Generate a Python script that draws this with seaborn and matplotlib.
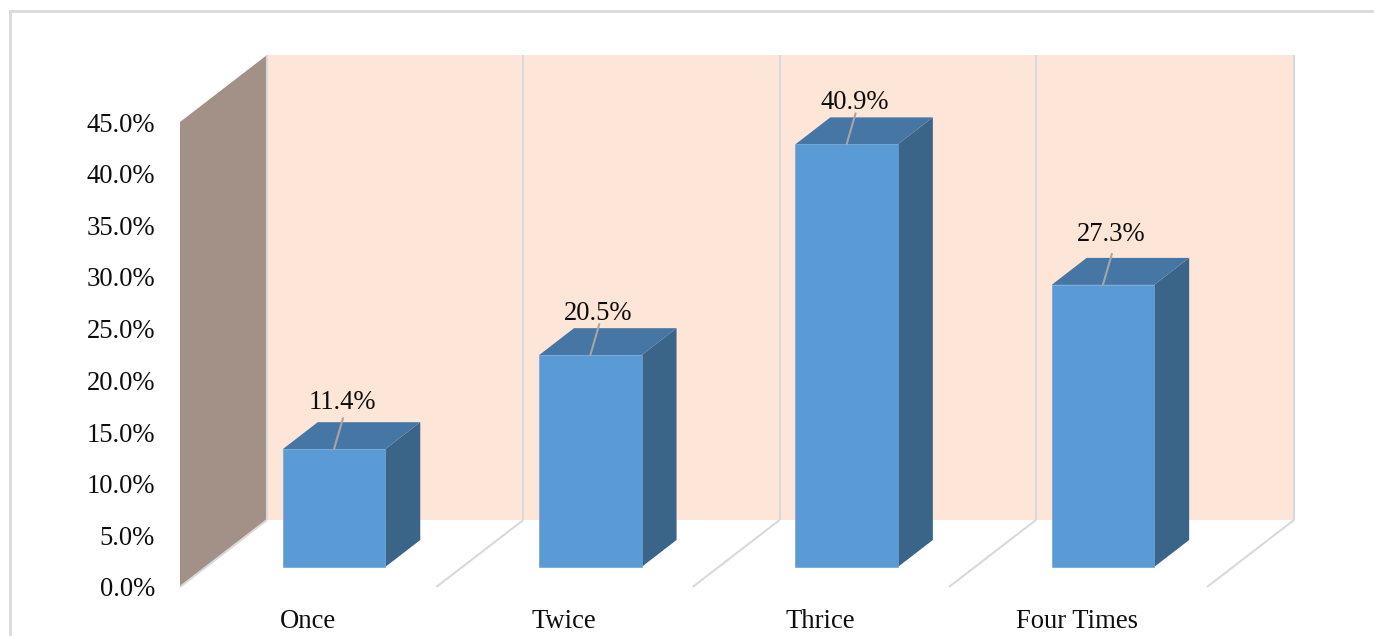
import matplotlib
matplotlib.use('Agg')
import matplotlib.pyplot as plt
from matplotlib.patches import Polygon, Rectangle
import numpy as np
import seaborn as sns

categories = ['Once', 'Twice', 'Thrice', 'Four Times']
values = [11.4, 20.5, 40.9, 27.3]
tick_vals = [0, 5, 10, 15, 20, 25, 30, 35, 40, 45]

# reference size and the pixel layout of the fake 3d box
W, H = 1374, 636
px_per_pct = 465 / 45
px_per_cat = 256.3
x0_px, base_px = 334, 567      # first bar centre, bar baseline
font_size = 19.2

# px -> data helpers
dx = lambda px: px / px_per_cat
dy = lambda px: px / px_per_pct

sns.set_theme(style='white')
plt.rcParams['font.family'] = ['Liberation Serif', 'DejaVu Serif']

fig = plt.figure(figsize=(W / 100, H / 100), dpi=100)
left, right, bottom, top = 180, 1294, 587, 55
ax = fig.add_axes([left / W, 1 - bottom / H, (right - left) / W, (bottom - top) / H])

sns.barplot(x=categories, y=values, color='#5B9BD5', saturation=1, width=0.4,
            edgecolor='#6BA5DA', linewidth=0.5, ax=ax, zorder=4)

ax.set_xlim((left - x0_px) / px_per_cat, (right - x0_px) / px_per_cat)
ax.set_ylim((base_px - bottom) / px_per_pct, (base_px - top) / px_per_pct)
sns.despine(ax=ax, left=True, bottom=True, right=True, top=True)
ax.patch.set_alpha(0)

# walls
wall_dx, wall_dy = dx(87), dy(67)
xl = ax.get_xlim()[0]
yb = ax.get_ylim()[0]
ax.add_patch(Rectangle((xl + wall_dx, yb + wall_dy), ax.get_xlim()[1] - xl - wall_dx, 45,
                       fc='#FDE5D8', ec='none', zorder=1))
ax.add_patch(Polygon([(xl, yb), (xl + wall_dx, yb + wall_dy),
                      (xl + wall_dx, yb + wall_dy + 45), (xl, yb + 45)],
                     fc='#A39086', ec='none', zorder=2))

# grid: one upright on the back wall and one diagonal on the floor per category edge
for i in range(len(categories) + 1):
    gx = xl + wall_dx + i
    if i == len(categories):
        gx = ax.get_xlim()[1]
    ax.plot([gx, gx], [yb + wall_dy, yb + wall_dy + 45], color='#D9D9D9', lw=1.5, zorder=2.5,
            solid_capstyle='butt', clip_on=False)
    ax.plot([gx - wall_dx, gx], [yb, yb + wall_dy], color='#D9D9D9', lw=1.5, zorder=2.5,
            solid_capstyle='butt', clip_on=False)

# side and top faces from the bars seaborn drew
bar_dx, bar_dy = dx(35), dy(27)
for bar in ax.patches:
    if bar.get_zorder() != 4:
        continue
    x1 = bar.get_x()
    x2 = x1 + bar.get_width()
    h = bar.get_height()
    ax.add_patch(Polygon([(x2, 0), (x2 + bar_dx, bar_dy), (x2 + bar_dx, h + bar_dy), (x2, h)],
                         fc='#3A6589', ec='none', zorder=3))
    ax.add_patch(Polygon([(x1, h), (x1 + bar_dx, h + bar_dy), (x2 + bar_dx, h + bar_dy), (x2, h)],
                         fc='#4676A3', ec='none', zorder=3))

# data labels with their leader lines
label_gap = [47, 42, 42, 50]
for i, v in enumerate(values):
    ax.annotate('', xy=(i, v), xytext=(9, 31), textcoords='offset pixels',
                arrowprops=dict(arrowstyle='-', color='#A6A6A6', lw=1.5, shrinkA=0, shrinkB=0),
                zorder=5)
    ax.annotate(f'{v:.1f}%', xy=(i, v), xytext=(8, label_gap[i]), textcoords='offset pixels',
                ha='center', va='center', fontsize=font_size, color='#0D0D0D', zorder=6)

# y ticks sit on the front edge of the side wall, x labels left of the bar centres
ax.set_yticks(np.array(tick_vals) + yb)
ax.set_yticklabels([f'{t:.1f}%' for t in tick_vals], fontsize=font_size, color='#0D0D0D')
ax.set_xticks(np.arange(len(categories)) - dx(26))
ax.set_xticklabels(categories, fontsize=font_size, color='#0D0D0D')
ax.tick_params(axis='both', length=0)
ax.tick_params(axis='y', pad=18)
ax.tick_params(axis='x', pad=15.5)
ax.set_xlabel('')
ax.set_ylabel('')

# chart frame, cut off by the image at the right and bottom
fig.add_artist(Rectangle((10 / W, -0.1), 1.2, 1.1 - 11 / H, transform=fig.transFigure,
                         fc='none', ec='#D9D9D9', lw=2))

fig.savefig('out.png', dpi=100)
